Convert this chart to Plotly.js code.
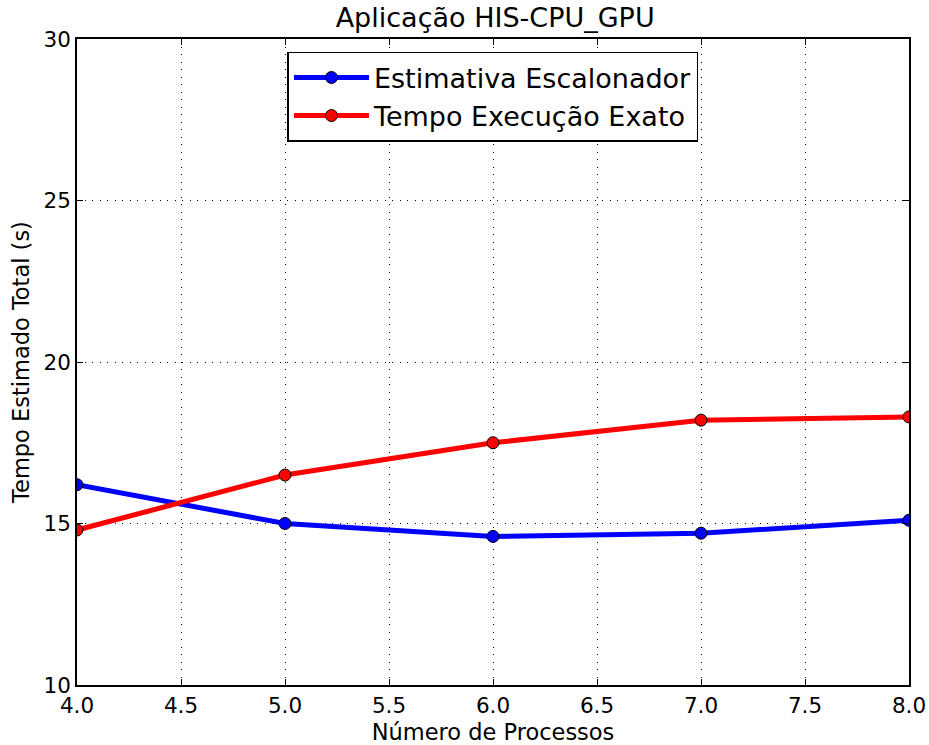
<!DOCTYPE html>
<html><head><meta charset="utf-8">
<script src="https://cdn.plot.ly/plotly-3.0.1.min.js"></script>
<style>html,body{margin:0;padding:0;background:#fff}</style>
</head><body>
<div id="chart" style="width:929px;height:745px"></div>
<script>
const processos = [4, 5, 6, 7, 8];
const estimativaEscalonador = [16.2, 15.0, 14.6, 14.7, 15.1];
const tempoExecucaoExato = [14.8, 16.5, 17.5, 18.2, 18.3];
const xTicks = [4.0, 4.5, 5.0, 5.5, 6.0, 6.5, 7.0, 7.5, 8.0];
const xTickLabels = ["4.0","4.5","5.0","5.5","6.0","6.5","7.0","7.5","8.0"];
const yTicks = [10, 15, 20, 25, 30];

const traces = [
  {x: processos, y: estimativaEscalonador, name: "Estimativa Escalonador", mode: "lines+markers",
   line: {color: "#0000ff", width: 5}, marker: {color: "#0000ff", size: 12, line: {color: "#000", width: 1}}},
  {x: processos, y: tempoExecucaoExato, name: "Tempo Execução Exato", mode: "lines+markers",
   line: {color: "#ff0000", width: 5}, marker: {color: "#ff0000", size: 12, line: {color: "#000", width: 1}}}
];
const axisCommon = {
  showline: true, linecolor: "#000", linewidth: 1.5, mirror: "ticks",
  ticks: "inside", ticklen: 6, tickcolor: "#000", tickwidth: 1,
  showgrid: true, gridcolor: "#000", griddash: "1px,6.5px", gridwidth: 1, zeroline: false,
  tickfont: {size: 21.5, color: "#000"}
};
const layout = {
  width: 929, height: 745,
  margin: {l: 77, r: 20, t: 39, b: 60},
  font: {family: "DejaVu Sans", color: "#000"},
  paper_bgcolor: "#fff", plot_bgcolor: "#fff",
  title: {text: "Aplicação HIS-CPU_GPU", font: {size: 27}, x: 0.533, xanchor: "center", y: 0.989, yanchor: "top"},
  xaxis: Object.assign({}, axisCommon, {range: [4, 8], tickvals: xTicks, ticktext: xTickLabels,
    title: {text: "Número de Processos", font: {size: 22.5}, standoff: 10}}),
  yaxis: Object.assign({}, axisCommon, {range: [10, 30], tickvals: yTicks,
    title: {text: "Tempo Estimado Total (s)", font: {size: 22.5}, standoff: 8}}),
  legend: {x: 0.253, y: 0.98, xanchor: "left", yanchor: "top", bordercolor: "#000", borderwidth: 1.5,
    bgcolor: "#fff", font: {size: 27}, itemwidth: 75, tracegroupgap: 4},
  showlegend: true
};
Plotly.newPlot("chart", traces, layout, {displayModeBar: false});
</script>
</body></html>
